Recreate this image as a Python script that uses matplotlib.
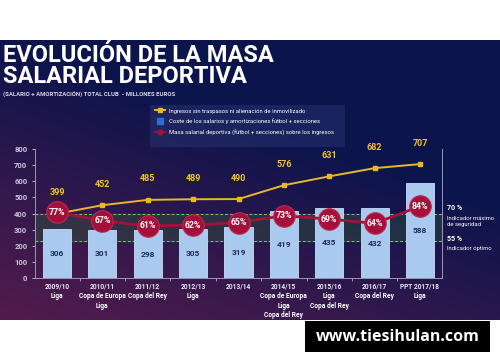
import numpy as np
import matplotlib
matplotlib.use('Agg')
import matplotlib.pyplot as plt
from matplotlib.patches import Rectangle
from matplotlib.lines import Line2D

plt.rcParams['font.family'] = ['Roboto', 'DejaVu Sans']

seasons = ['2009/10', '2010/11', '2011/12', '2012/13', '2013/14',
           '2014/15', '2015/16', '2016/17', 'PPT 2017/18']
titles = ['Liga', 'Copa de Europa\nLiga', 'Copa del Rey', 'Liga', '',
          'Copa de Europa\nLiga\nCopa del Rey', 'Liga\nCopa del Rey',
          'Copa del Rey', 'Liga']
ingresos = [399, 452, 485, 489, 490, 576, 631, 682, 707]
coste = [306, 301, 298, 305, 319, 419, 435, 432, 588]
ratio = [77, 67, 61, 62, 65, 73, 69, 64, 84]
band = (230, 400)
ratio_scale = 5.3

NAVY = np.array([0.05, 0.08, 0.30])
PURPLE = np.array([0.36, 0.11, 0.30])
YELLOW = '#e9b824'
RED = '#a5103a'
BLUE = '#a9c9ee'

fig = plt.figure(figsize=(5, 3.62), dpi=100)

# background panel
bg = fig.add_axes([0, 0.116, 1, 0.773])
xx, yy = np.meshgrid(np.linspace(0, 1, 200), np.linspace(0, 1, 150))
t = np.clip(yy * 0.9 + (1 - xx) * 0.55 - 0.55, 0, 1)[..., None]
img = NAVY * (1 - t) + PURPLE * t
bg.imshow(img, aspect='auto', extent=[0, 1, 0, 1], origin='upper')
bg.set_axis_off()

fig.text(0.006, 0.830, 'EVOLUCIÓN DE LA MASA', color='white', fontsize=17,
         fontweight='bold', va='baseline')
fig.text(0.006, 0.772, 'SALARIAL DEPORTIVA', color='white', fontsize=17,
         fontweight='bold', va='baseline')
fig.text(0.006, 0.738, '(SALARIO + AMORTIZACIÓN) TOTAL CLUB  - MILLONES EUROS',
         color='#d8d8e8', fontsize=4.3, fontweight='bold', va='center')

ax = fig.add_axes([0.07, 0.232, 0.814, 0.356])
ax.set_facecolor('none')
x = np.arange(len(seasons))
ax.set_xlim(-0.485, len(seasons) - 1 + 0.485)
ax.set_ylim(0, 800)

ax.axhspan(band[0], band[1], color='#2e5a3a', alpha=0.4, zorder=1)
ax.axhline(band[0], color='#7fbf7f', ls=(0, (3, 2)), lw=0.7, zorder=1.5)
ax.axhline(band[1], color='#7fbf7f', ls=(0, (3, 2)), lw=0.7, zorder=1.5)

ax.bar(x, coste, width=0.62, color=BLUE, edgecolor='#c8dcf5', lw=0.6,
       zorder=2)
for xi, v in zip(x, coste):
    ax.text(xi, v / 2, str(v), ha='center', va='center', fontsize=6,
            fontweight='bold', color='#1f2d5c', zorder=3)

ax.plot(x, ingresos, color=YELLOW, lw=1.4, marker='s', ms=3, zorder=4)
for xi, v in zip(x, ingresos):
    ax.text(xi, v + 130, str(v), ha='center', va='center', fontsize=6.5,
            fontweight='bold', color='#f2c52a', zorder=5)

ry = np.array(ratio) * ratio_scale
ax.plot(x, ry, color=RED, lw=2, zorder=5)
ax.scatter(x, ry, s=240, color=RED, edgecolor='#c0284f', lw=0.8, zorder=6)
for xi, yv, r in zip(x, ry, ratio):
    ax.text(xi, yv, f'{r}%', ha='center', va='center', fontsize=6.3,
            fontweight='bold', color='white', zorder=7)

ax.set_yticks(range(0, 801, 100))
ax.tick_params(axis='y', colors='#c8c8d8', labelsize=5.5, length=2,
               width=0.6)
for lab in ax.get_yticklabels():
    lab.set_fontweight('bold')
ax.set_xticks(x)
ax.set_xticklabels([])
ax.set_xticks(x[:-1] + 0.5, minor=True)
ax.tick_params(axis='x', which='both', colors='#b0b0c0', length=2,
               width=0.6)
ax.tick_params(axis='x', which='major', length=0)
ax.spines['top'].set_visible(False)
for s in ['left', 'bottom', 'right']:
    ax.spines[s].set_color('#9a9ab0')
    ax.spines[s].set_linewidth(0.7)

for xi, season, ttl in zip(x, seasons, titles):
    ax.text(xi, -25, season, ha='center', va='top', fontsize=4.8,
            fontweight='bold', color='#e8e8f0')
    if ttl:
        ax.text(xi, -85, ttl, ha='center', va='top', fontsize=4.8,
                fontweight='bold', color='white', linespacing=1.3)

# legend box
fig.patches.append(Rectangle((0.30, 0.595), 0.39, 0.115,
                             transform=fig.transFigure,
                             facecolor='#3a4a8a', alpha=0.3, lw=0))
handles = [
    Line2D([], [], color=YELLOW, lw=1.4, marker='s', ms=3),
    Line2D([], [], color='#2a6fd0', lw=0, marker='s', ms=4),
    Line2D([], [], color=RED, lw=1.4, marker='o', ms=3.5),
]
labels = ['Ingresos sin traspasos ni alienación de inmovilizado',
          'Coste de los salarios y amortizaciones fútbol + secciones',
          'Masa salarial deportiva (fútbol + secciones) sobre los ingresos']
fig.legend(handles, labels, loc='upper left', bbox_to_anchor=(0.30, 0.715),
           frameon=False, fontsize=4.2, handlelength=1.6, labelspacing=0.9,
           handletextpad=0.8, labelcolor='white')

fig.text(0.894, 0.42, '70 %', color='white', fontsize=5, fontweight='bold')
fig.text(0.894, 0.375, 'Indicador máximo\nde seguridad', color='white',
         fontsize=4.2, linespacing=1.3)
fig.text(0.894, 0.335, '55 %', color='white', fontsize=5, fontweight='bold')
fig.text(0.894, 0.31, 'Indicador óptimo', color='white', fontsize=4.2)

# watermark
fig.patches.append(Rectangle((0.61, 0.028), 0.37, 0.085,
                             transform=fig.transFigure, facecolor='black',
                             lw=0))
fig.text(0.795, 0.07, 'www.tiesihulan.com', color='white', fontsize=11.5,
         fontweight='bold', ha='center', va='center',
         family=['Open Sans', 'DejaVu Sans'])

fig.savefig('out.png', dpi=100)
